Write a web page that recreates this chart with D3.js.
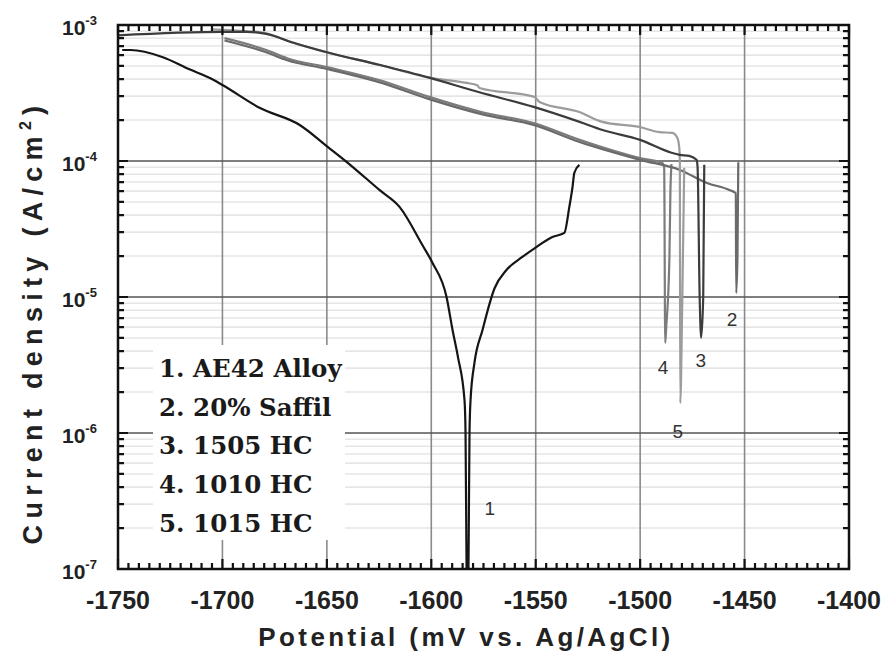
<!DOCTYPE html>
<html>
<head>
<meta charset="utf-8">
<script src="https://d3js.org/d3.v7.min.js"></script>
<style>
  body { margin: 0; background: #fff; }
  svg { display: block; }
</style>
</head>
<body>
<div id="chart"></div>
<script>
// -----------------------------------------------------------------------
// DATA  (potential in mV vs Ag/AgCl, current density in A/cm2)
// -----------------------------------------------------------------------

// 1. AE42 Alloy
var alloyAE42 = [
  [-1748, 6.55e-4], [-1744, 6.55e-4], [-1728.5, 5.8e-4], [-1715.5, 4.7e-4],
  [-1706, 4.07e-4], [-1700, 3.62e-4], [-1682, 2.45e-4], [-1663, 1.84e-4],
  [-1649.6, 1.27e-4], [-1640, 9.7e-5], [-1624.7, 6.1e-5], [-1615.2, 4.6e-5],
  [-1604.2, 2.4e-5], [-1599.4, 1.78e-5], [-1592.7, 1.0e-5], [-1589.8, 5.7e-6],
  [-1587.2, 3.6e-6], [-1584.1, 1.75e-6], [-1583.6, 1.0e-6], [-1583.1, 1.0e-7],
  [-1583, 8e-8], [-1582.3, 8e-8],
  [-1582.2, 1.0e-7], [-1581.7, 1.0e-6], [-1581.2, 1.75e-6], [-1579.3, 3.3e-6],
  [-1575.5, 5.7e-6], [-1569.7, 1.16e-5], [-1564, 1.58e-5], [-1556.4, 1.97e-5],
  [-1549.7, 2.33e-5], [-1542, 2.76e-5], [-1536.3, 2.96e-5], [-1533.9, 4.6e-5],
  [-1532.4, 6.4e-5], [-1531.5, 8.2e-5], [-1529.1, 9.35e-5]
];

// 2. 20% Saffil
var saffil20 = [
  [-1699, 7.7e-4], [-1679, 6.3e-4], [-1669, 5.5e-4], [-1650, 4.75e-4],
  [-1625, 3.8e-4], [-1601, 2.85e-4], [-1575.5, 2.2e-4], [-1551, 1.84e-4],
  [-1529, 1.38e-4], [-1500, 1.02e-4], [-1481, 8.6e-5], [-1468, 6.9e-5],
  [-1457, 6.1e-5], [-1454.2, 5.8e-5], [-1454, 1.07e-5], [-1453.4, 2.0e-5],
  [-1453, 9.8e-5]
];

// 3. 1505 HC
var hc1505 = [
  [-1750, 8.4e-4], [-1700, 8.9e-4], [-1688, 8.9e-4], [-1679, 8.6e-4],
  [-1666, 7.4e-4], [-1650, 6.3e-4], [-1625, 5.1e-4], [-1601, 4.1e-4],
  [-1577, 3.2e-4], [-1551, 2.5e-4], [-1529, 1.94e-4], [-1518, 1.69e-4],
  [-1500, 1.43e-4], [-1485, 1.15e-4], [-1481, 1.11e-4], [-1476.5, 1.09e-4],
  [-1473, 1.02e-4], [-1472.5, 9.0e-5], [-1471.5, 1.0e-5], [-1470.8, 5.0e-6],
  [-1469.8, 1.0e-5], [-1469.3, 9.4e-5]
];

// 4. 1010 HC
var hc1010 = [
  [-1699, 8.0e-4], [-1679, 6.55e-4], [-1669, 5.7e-4], [-1650, 4.9e-4],
  [-1625, 3.94e-4], [-1601, 2.96e-4], [-1575.5, 2.28e-4], [-1551, 1.9e-4],
  [-1529, 1.43e-4], [-1500, 1.05e-4], [-1489.4, 9.66e-5], [-1488.5, 9.0e-5],
  [-1488, 4.6e-6], [-1487.5, 6.0e-6], [-1486, 1.9e-5], [-1485.5, 6.0e-5],
  [-1485, 9.5e-5]
];

// 5. 1015 HC
var hc1015 = [
  [-1705, 9.3e-4], [-1688, 9.0e-4], [-1679, 8.7e-4], [-1672, 8.0e-4],
  [-1666, 7.4e-4], [-1650, 6.3e-4], [-1625, 5.1e-4], [-1601, 4.1e-4],
  [-1583, 3.75e-4], [-1578, 3.6e-4], [-1576.9, 3.44e-4], [-1550.6, 2.96e-4],
  [-1548.2, 2.72e-4], [-1529.1, 2.29e-4], [-1518.1, 1.94e-4], [-1500.4, 1.78e-4],
  [-1490.8, 1.63e-4], [-1484.6, 1.61e-4], [-1482.2, 1.48e-4], [-1481.3, 1.27e-4],
  [-1481, 1.0e-4], [-1480.8, 1.66e-6], [-1479.8, 1.0e-5], [-1478.9, 8.9e-5]
];

var legendLabels = ['1. AE42 Alloy', '2. 20% Saffil', '3. 1505 HC', '4. 1010 HC', '5. 1015 HC'];

// curve number tags placed next to the curves
var curveTags = [
  { text: '1', mv: -1572, i: 2.8e-7 },
  { text: '2', mv: -1456, i: 6.8e-6 },
  { text: '3', mv: -1471, i: 3.4e-6 },
  { text: '4', mv: -1489, i: 3.05e-6 },
  { text: '5', mv: -1482, i: 1.02e-6 }
];

var xTickValues = [-1750, -1700, -1650, -1600, -1550, -1500, -1450, -1400];
var yDecades = [1e-7, 1e-6, 1e-5, 1e-4, 1e-3];
var yExponents = ['-7', '-6', '-5', '-4', '-3'];

// -----------------------------------------------------------------------
// CHART
// -----------------------------------------------------------------------

var fullWidth = 888;
var fullHeight = 660;
var margins = { top: 25, right: 39, bottom: 91, left: 118 };
var width = fullWidth - margins.left - margins.right;
var height = fullHeight - margins.top - margins.bottom;

var xScale = d3.scaleLinear().domain([-1750, -1400]).range([0, width]);
var yScale = d3.scaleLog().domain([1e-7, 1e-3]).range([height, 0]);

var container = d3.select('#chart').append('svg')
  .attr('width', fullWidth)
  .attr('height', fullHeight)
  .attr('viewBox', `0 0 ${fullWidth} ${fullHeight}`);

var svg = container.append('g')
  .attr('transform', `translate(${margins.left},${margins.top})`);

svg.append('clipPath').attr('id', 'plot-clip')
  .append('rect').attr('width', width).attr('height', height);

// minor values for log axis (2..9 in each decade)
var minorY = [];
yDecades.slice(0, -1).forEach(function(d) {
  for (var k = 2; k <= 9; k++) minorY.push(d * k);
});
var minorX = d3.range(-1750, -1399, 5);

// Grid: light minor horizontals, gray verticals, dark decade lines
svg.append('g').attr('class', 'grid-minor')
  .selectAll('line').data(minorY).join('line')
  .attr('x1', 0).attr('x2', width)
  .attr('y1', d => yScale(d)).attr('y2', d => yScale(d))
  .attr('stroke', '#e6e6e6').attr('stroke-width', 1.6);

svg.append('g').attr('class', 'grid-x')
  .selectAll('line').data(xTickValues.slice(1, -1)).join('line')
  .attr('x1', d => xScale(d)).attr('x2', d => xScale(d))
  .attr('y1', 0).attr('y2', height)
  .attr('stroke', '#8a8a8a').attr('stroke-width', 1.6);

svg.append('g').attr('class', 'grid-y')
  .selectAll('line').data(yDecades.slice(1, -1)).join('line')
  .attr('x1', 0).attr('x2', width)
  .attr('y1', d => yScale(d)).attr('y2', d => yScale(d))
  .attr('stroke', '#555').attr('stroke-width', 1.6);

// Legend box hides the grid underneath it
svg.append('rect')
  .attr('x', 35).attr('y', 320)
  .attr('width', 192).attr('height', 195)
  .attr('fill', '#fff');

svg.append('g').attr('class', 'legend-text')
  .selectAll('text').data(legendLabels).join('text')
  .attr('x', 41)
  .attr('y', (d, i) => 352 + i * 38.7)
  .attr('font-family', '"DejaVu Serif", serif')
  .attr('font-weight', 'bold')
  .attr('font-size', 24.5)
  .attr('fill', '#1a1a1a')
  .text(d => d);

// Curves
var line = d3.line()
  .curve(d3.curveMonotoneX)
  .x(d => xScale(d[0]))
  .y(d => yScale(d[1]));

var series = [
  { data: hc1010, color: '#7c7c7c' },
  { data: saffil20, color: '#6a6a6a' },
  { data: hc1015, color: '#9c9c9c' },
  { data: hc1505, color: '#3c3c3c' },
  { data: alloyAE42, color: '#151515' }
];

svg.append('g').attr('clip-path', 'url(#plot-clip)')
  .selectAll('path').data(series).join('path')
  .attr('d', d => line(d.data))
  .attr('fill', 'none')
  .attr('stroke', d => d.color)
  .attr('stroke-width', 2.2)
  .attr('stroke-linejoin', 'round');

svg.append('g').attr('class', 'tags')
  .selectAll('text').data(curveTags).join('text')
  .attr('x', d => xScale(d.mv))
  .attr('y', d => yScale(d.i))
  .attr('text-anchor', 'middle')
  .attr('dominant-baseline', 'central')
  .attr('font-family', '"Liberation Sans", Arial, sans-serif')
  .attr('font-size', 19)
  .attr('fill', '#333')
  .text(d => d.text);

// x tick labels
svg.append('g').attr('class', 'x-labels')
  .selectAll('text').data(xTickValues).join('text')
  .attr('x', d => xScale(d))
  .attr('y', height + 40)
  .attr('text-anchor', 'middle')
  .attr('font-family', '"Liberation Sans", Arial, sans-serif')
  .attr('font-weight', 'bold')
  .attr('font-size', 25)
  .attr('fill', '#222')
  .text(d => String(d));

// y tick labels as 10 with a superscript exponent
var yLabels = svg.append('g').attr('class', 'y-labels')
  .selectAll('text').data(yDecades).join('text')
  .attr('x', -56)
  .attr('y', d => yScale(d) + 10)
  .attr('font-family', '"Liberation Sans", Arial, sans-serif')
  .attr('font-weight', 'bold')
  .attr('font-size', 21)
  .attr('fill', '#222');

yLabels.append('tspan').text('10');
yLabels.append('tspan')
  .attr('dy', -10)
  .attr('font-size', 13)
  .text((d, i) => yExponents[i]);

// Frame
svg.append('rect')
  .attr('width', width).attr('height', height)
  .attr('fill', 'none')
  .attr('stroke', '#111')
  .attr('stroke-width', 2.5);

// Ticks: one path, inwards on all four sides (minor short, major long)
var tickPath = d3.path();
minorX.forEach(function(d) {
  var len = d % 50 === 0 ? 10 : 6;
  var x = xScale(d);
  tickPath.moveTo(x, height);
  tickPath.lineTo(x, height - len);
  tickPath.moveTo(x, 0);
  tickPath.lineTo(x, len);
});
minorY.concat(yDecades).forEach(function(d) {
  var len = yDecades.includes(d) ? 10 : 6;
  var y = yScale(d);
  tickPath.moveTo(0, y);
  tickPath.lineTo(len, y);
  tickPath.moveTo(width, y);
  tickPath.lineTo(width - len, y);
});

svg.append('path')
  .attr('class', 'ticks')
  .attr('d', tickPath.toString())
  .attr('fill', 'none')
  .attr('stroke', '#111')
  .attr('stroke-width', 2.2);

// Axis titles
svg.append('text')
  .attr('x', 348)
  .attr('y', height + 77)
  .attr('text-anchor', 'middle')
  .attr('font-family', '"Liberation Sans", Arial, sans-serif')
  .attr('font-weight', 'bold')
  .attr('font-size', 26)
  .attr('letter-spacing', 3.4)
  .attr('fill', '#222')
  .text('Potential (mV vs. Ag/AgCl)');

var yTitle = svg.append('text')
  .attr('transform', `translate(-76,${297})rotate(-90)`)
  .attr('text-anchor', 'middle')
  .attr('font-family', '"Liberation Sans", Arial, sans-serif')
  .attr('font-weight', 'bold')
  .attr('font-size', 27)
  .attr('letter-spacing', 6.3)
  .attr('fill', '#222');

yTitle.append('tspan').text('Current density (A/cm');
yTitle.append('tspan').attr('dy', -11).attr('font-size', 16).text('2');
yTitle.append('tspan').attr('dy', 11).text(')');
</script>
</body>
</html>
